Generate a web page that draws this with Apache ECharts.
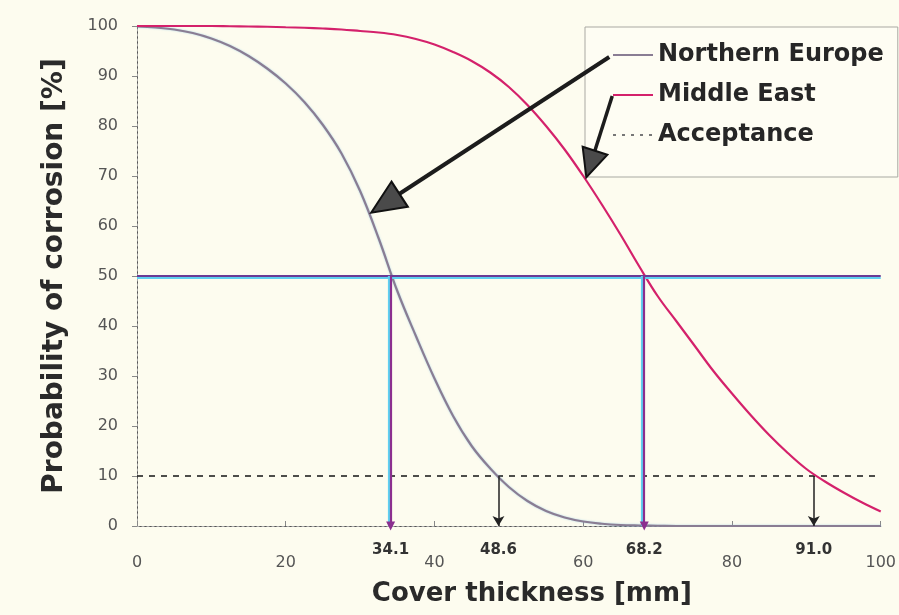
<!DOCTYPE html>
<html><head><meta charset="utf-8">
<script src="https://cdn.jsdelivr.net/npm/echarts@6/dist/echarts.min.js"></script>
<style>html,body{margin:0;padding:0;background:#fdfcef;}#c{width:899px;height:615px;}</style>
</head><body><div id="c"></div>
<script>
// Cover thickness [mm]
const thickness = [0,2.5,5,7.5,10,12.5,15,17.5,20,22.5,25,27.5,30,32.5,35,37.5,40,42.5,45,47.5,50,
                   52.5,55,57.5,60,62.5,65,67.5,70,72.5,75,77.5,80,82.5,85,87.5,90,92.5,95,97.5,100];
// Probability of corrosion [%]
const northernEurope = [99.9,99.7,99.3,98.6,97.5,96.0,94.0,91.5,88.5,84.8,80.2,74.5,67.0,57.5,47.0,38.0,29.5,22.0,16.0,11.5,7.8,
                        5.0,3.0,1.7,0.9,0.45,0.2,0.1,0.05,0,0,0,0,0,0,0,0,0,0,0,0];
const middleEast     = [100,100,100,100,100,99.95,99.9,99.85,99.75,99.65,99.5,99.3,99.0,98.7,98.2,97.4,96.3,94.8,93.0,90.7,87.8,
                        84.2,80.0,75.3,70.0,64.3,58.3,52.0,46.0,41.0,36.0,31.0,26.5,22.2,18.2,14.6,11.4,8.9,6.7,4.7,2.9];
const acceptanceLevel = 10;
const medianLevel = 50;
const median50 = [34.1, 68.2];     // thickness at 50 % probability
const accept10 = [48.6, 91.0];     // thickness at acceptance level
const xTicks = [0,20,40,60,80,100];
const yTicks = [0,10,20,30,40,50,60,70,80,90,100];

const FONT = 'DejaVu Sans';
const pair = (xs, ys) => xs.map((x, i) => [x, ys[i]]);

const chart = echarts.init(document.getElementById('c'), null, {renderer: 'canvas'});
chart.setOption({
  backgroundColor: '#fdfcef',
  animation: false,
  grid: {left: 137, right: 17, top: 26, bottom: 89},
  legend: {
    z: 1,
    left: 585, top: 27,
    orient: 'vertical',
    selectedMode: false,
    backgroundColor: '#fefdf3',
    borderColor: '#a9a9a2', borderWidth: 1,
    padding: [16, 14, 30, 27],
    itemWidth: 40, itemHeight: 24, itemGap: 16,
    itemStyle: {opacity: 0},
    textStyle: {fontFamily: FONT, fontWeight: 'bold', fontSize: 24, color: '#262626'},
    data: [
      {name: 'Northern Europe'},
      {name: 'Middle East'},
      {name: 'Acceptance', lineStyle: {type: [3, 6], color: '#777', width: 2}}
    ]
  },
  xAxis: [{
    type: 'value', min: 0, max: 100, interval: 20,
    name: 'Cover thickness [mm]', nameLocation: 'middle', nameGap: 55,
    nameTextStyle: {fontFamily: FONT, fontWeight: 'bold', fontSize: 26, color: '#2a2a2a',
      padding: [0, 0, 0, 46]},
    axisLine: {show: true, onZero: false, lineStyle: {color: '#555', width: 1}},
    axisTick: {show: true, inside: true, length: 5, lineStyle: {color: '#888'}},
    axisLabel: {margin: 29, fontFamily: FONT, fontSize: 16, color: '#555',
      customValues: xTicks},
    splitLine: {show: false}
  }, {
    type: 'value', min: 0, max: 100, position: 'top',
    axisLine: {show: true, lineStyle: {color: '#aaa', type: [2, 3], width: 1}},
    axisTick: {show: false}, axisLabel: {show: false}, splitLine: {show: false}
  }],
  yAxis: [{
    type: 'value', min: 0, max: 100, interval: 10,
    name: 'Probability of corrosion [%]', nameLocation: 'middle', nameGap: 68,
    nameTextStyle: {fontFamily: FONT, fontWeight: 'bold', fontSize: 28, color: '#2a2a2a'},
    axisLine: {show: true, onZero: false, lineStyle: {color: '#555', width: 1}},
    axisTick: {show: true, length: 5, lineStyle: {color: '#888'}},
    axisLabel: {margin: 19, fontFamily: FONT, fontSize: 16, color: '#555',
      customValues: yTicks},
    splitLine: {show: false}
  }, {
    type: 'value', min: 0, max: 100, position: 'right',
    axisLine: {show: true, lineStyle: {color: '#aaa', type: [2, 3], width: 1}},
    axisTick: {show: false}, axisLabel: {show: false}, splitLine: {show: false}
  }],
  series: [
    {
      name: 'Acceptance', type: 'line', symbol: 'none', z: 3,
      itemStyle: {color: '#222'},
      data: [[0, acceptanceLevel], [100, acceptanceLevel]],
      lineStyle: {color: '#222', width: 1.6, type: [6, 6]},
      markLine: {
        silent: true, symbol: ['none', 'arrow'], symbolSize: [9, 10],
        lineStyle: {color: '#222', width: 1.5, type: 'solid'},
        label: {show: true, position: 'end', distance: 17, formatter: '{b}',
          fontFamily: FONT, fontWeight: 'bold', fontSize: 15, color: '#333'},
        data: accept10.map(v => [
          {coord: [v, acceptanceLevel], name: v.toFixed(1)},
          {coord: [v, 0]}
        ])
      }
    },
    {
      name: 'Northern Europe', type: 'line', symbol: 'none', smooth: 0.4, z: 4,
      itemStyle: {color: '#8a7d93'},
      data: pair(thickness, northernEurope),
      lineStyle: {color: '#8a7d93', width: 2.2, shadowColor: 'rgba(120,190,230,0.6)', shadowBlur: 2},
      markLine: {
        silent: true, symbol: ['none', 'none'],
        lineStyle: {color: '#1c1c1c', width: 4, type: 'solid'},
        label: {show: false},
        data: [[{coord: [63.5, 93.8]}, {coord: [33.6, 64.8]}]]
      },
      markPoint: {
        silent: true, symbol: 'triangle', symbolSize: [30, 34],
        itemStyle: {color: '#4a4a4a', borderColor: '#111', borderWidth: 2},
        label: {show: false},
        data: [{coord: [33.4, 64.5], symbolRotate: 123}]
      }
    },
    {
      name: 'Middle East', type: 'line', symbol: 'none', smooth: 0.4, z: 4,
      itemStyle: {color: '#d4216b'},
      data: pair(thickness, middleEast),
      lineStyle: {color: '#d4216b', width: 2.2},
      markLine: {
        silent: true, symbol: ['none', 'none'],
        lineStyle: {color: '#1c1c1c', width: 3.5, type: 'solid'},
        label: {show: false},
        data: [[{coord: [63.9, 86.0]}, {coord: [61.0, 72.4]}]]
      },
      markPoint: {
        silent: true, symbol: 'triangle', symbolSize: [26, 28],
        itemStyle: {color: '#4a4a4a', borderColor: '#111', borderWidth: 2},
        label: {show: false},
        data: [{coord: [61.0, 72.4], symbolRotate: 162}]
      }
    },
    {
      name: 'Median', type: 'line', symbol: 'none', z: 5,
      data: [],
      markLine: {
        silent: true,
        symbol: ['none', 'none'],
        lineStyle: {color: '#6a3b95', width: 2.2, type: 'solid',
          shadowColor: '#5fd0f0', shadowOffsetY: 2, shadowBlur: 0},
        label: {show: false},
        data: [[{coord: [0, medianLevel]}, {coord: [100, medianLevel]}]]
      }
    },
    {
      name: 'MedianDrop', type: 'line', symbol: 'none', z: 5,
      data: [],
      markLine: {
        silent: true,
        symbol: ['none', 'triangle'], symbolSize: [9, 9], symbolRotate: 180,
        lineStyle: {color: '#8b2f8f', width: 2.2, type: 'solid',
          shadowColor: '#5fd0f0', shadowOffsetX: -2, shadowBlur: 0},
        label: {show: true, position: 'end', distance: 17, formatter: '{b}',
          fontFamily: FONT, fontWeight: 'bold', fontSize: 15, color: '#333'},
        data: median50.map(v => [
          {coord: [v, medianLevel], name: v.toFixed(1)},
          {coord: [v, 0]}
        ])
      }
    }
  ]
});
</script></body></html>
